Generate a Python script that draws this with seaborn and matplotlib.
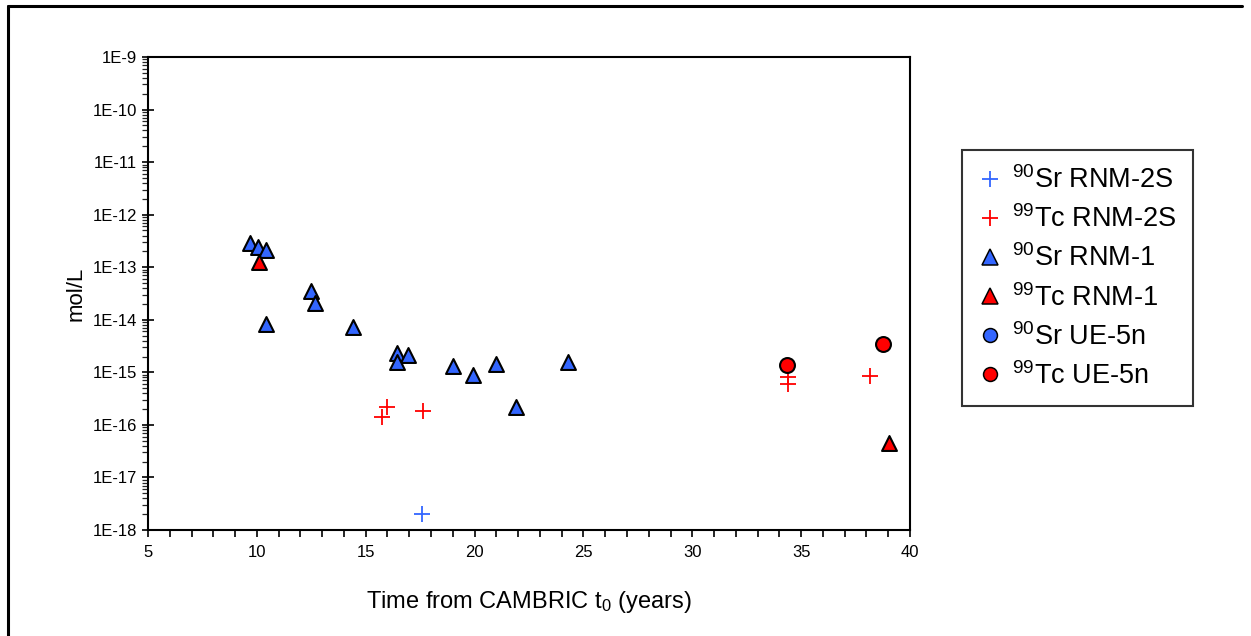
import matplotlib
matplotlib.use("Agg")
import matplotlib.pyplot as plt
import seaborn as sns
import numpy as np
from matplotlib.lines import Line2D
from matplotlib.ticker import LogLocator, MultipleLocator, FixedLocator, NullFormatter

# ---------------- data ----------------
sr_rnm2s_x = [17.6]
sr_rnm2s_y = [2.0e-18]

tc_rnm2s_x = [15.75, 16.0, 17.65, 34.4, 34.4, 38.15]
tc_rnm2s_y = [1.4e-16, 2.15e-16, 1.85e-16, 8.1e-16, 6.1e-16, 8.7e-16]

sr_rnm1_x = [9.7, 10.05, 10.4, 12.5, 12.65, 10.4, 14.4, 16.45, 16.95, 16.45, 19.0, 19.95, 21.0, 21.9, 24.3]
sr_rnm1_y = [2.9e-13, 2.45e-13, 2.1e-13, 3.6e-14, 2.05e-14, 8.4e-15, 7.2e-15, 2.3e-15, 2.15e-15,
             1.55e-15, 1.33e-15, 9.0e-16, 1.44e-15, 2.15e-16, 1.58e-15]

tc_rnm1_x = [10.1, 39.05]
tc_rnm1_y = [1.26e-13, 4.6e-17]

sr_ue5n_x = []
sr_ue5n_y = []

tc_ue5n_x = [34.35, 38.75]
tc_ue5n_y = [1.39e-15, 3.4e-15]

series_labels = [r"$^{90}$Sr RNM-2S", r"$^{99}$Tc RNM-2S", r"$^{90}$Sr RNM-1",
                 r"$^{99}$Tc RNM-1", r"$^{90}$Sr UE-5n", r"$^{99}$Tc UE-5n"]
x_ticks = [5, 10, 15, 20, 25, 30, 35, 40]
y_tick_labels = ["1E-18", "1E-17", "1E-16", "1E-15", "1E-14", "1E-13", "1E-12", "1E-11", "1E-10", "1E-9"]

# ---------------- style ----------------
sns.set_theme(style="white")
plt.rcParams["font.family"] = ["Liberation Sans", "DejaVu Sans"]
plt.rcParams["mathtext.default"] = "regular"

BLUE = "#3366FF"
RED = "#FF0000"

fig = plt.figure(figsize=(12.51, 6.36), dpi=100)
ax = fig.add_axes([148 / 1251, 1 - 530 / 636, (910 - 148) / 1251, (530 - 57) / 636])

def plot_series(x, y, marker, color, size, edge, lw):
    if len(x) == 0:
        return
    if marker == "+":
        sns.scatterplot(x=x, y=y, marker="+", color=color, s=size, linewidth=lw, ax=ax, zorder=3)
    else:
        sns.scatterplot(x=x, y=y, marker=marker, color=color, s=size, edgecolor=edge,
                        linewidth=lw, ax=ax, zorder=3)

plot_series(sr_rnm2s_x, sr_rnm2s_y, "+", BLUE, 130, None, 1.3)
plot_series(tc_rnm2s_x, tc_rnm2s_y, "+", RED, 130, None, 1.3)
plot_series(sr_rnm1_x, sr_rnm1_y, "^", BLUE, 115, "black", 1.5)
plot_series(tc_rnm1_x, tc_rnm1_y, "^", RED, 115, "black", 1.5)
plot_series(sr_ue5n_x, sr_ue5n_y, "o", BLUE, 115, "black", 1.5)
plot_series(tc_ue5n_x, tc_ue5n_y, "o", RED, 115, "black", 1.5)

ax.set_yscale("log")
ax.set_xlim(5, 40)
ax.set_ylim(1e-18, 1e-9)

ax.xaxis.set_major_locator(FixedLocator(x_ticks))
ax.xaxis.set_minor_locator(MultipleLocator(1))
ax.set_xticklabels([str(t) for t in x_ticks])
yt = [10.0 ** e for e in range(-18, -8)]
ax.yaxis.set_major_locator(FixedLocator(yt))
ax.set_yticklabels(y_tick_labels)
ax.yaxis.set_minor_locator(LogLocator(base=10, subs=np.arange(2, 10), numticks=100))
ax.yaxis.set_minor_formatter(NullFormatter())

ax.tick_params(axis="x", which="both", direction="out", length=5, width=1.2, bottom=True,
               labelsize=12, pad=6, colors="black")
ax.tick_params(axis="y", which="major", direction="inout", length=8, width=1.2, left=True,
               labelsize=12, pad=4, colors="black")
ax.tick_params(axis="y", which="minor", direction="out", length=4, width=0.9, left=True)

for sp in ax.spines.values():
    sp.set_visible(True)
    sp.set_color("black")
    sp.set_linewidth(1.5)

ax.set_xlabel(r"Time from CAMBRIC t$_0$ (years)", fontsize=17, labelpad=21, color="black")
ax.set_ylabel("mol/L", fontsize=16, labelpad=4, color="black")

# legend
handles = [
    Line2D([], [], linestyle="none", marker="+", color=BLUE, markersize=12, markeredgewidth=1.3),
    Line2D([], [], linestyle="none", marker="+", color=RED, markersize=12, markeredgewidth=1.3),
    Line2D([], [], linestyle="none", marker="^", markerfacecolor=BLUE, markeredgecolor="black", markersize=11, markeredgewidth=1.1),
    Line2D([], [], linestyle="none", marker="^", markerfacecolor=RED, markeredgecolor="black", markersize=11, markeredgewidth=1.1),
    Line2D([], [], linestyle="none", marker="o", markerfacecolor=BLUE, markeredgecolor="black", markersize=10, markeredgewidth=1.1),
    Line2D([], [], linestyle="none", marker="o", markerfacecolor=RED, markeredgecolor="black", markersize=10, markeredgewidth=1.1),
]
leg = fig.legend(handles, series_labels, loc="upper left",
                 bbox_to_anchor=(962 / 1251, 1 - 150 / 636), bbox_transform=fig.transFigure,
                 frameon=True, fancybox=False, fontsize=19.5, handlelength=0.9,
                 handletextpad=0.35, labelspacing=0.42, borderpad=0.6, borderaxespad=0)
leg.get_frame().set_edgecolor("black")
leg.get_frame().set_linewidth(1.5)
for t in leg.get_texts():
    t.set_color("black")

# outer frame (left and top edges)
fig.add_artist(Line2D([8 / 1251, 8 / 1251], [0, 1 - 6 / 636], transform=fig.transFigure,
                      color="black", linewidth=2.2))
fig.add_artist(Line2D([8 / 1251, 1242 / 1251], [1 - 6 / 636, 1 - 6 / 636], transform=fig.transFigure,
                      color="black", linewidth=2.2))

fig.savefig("out.png", dpi=100, facecolor="white")
